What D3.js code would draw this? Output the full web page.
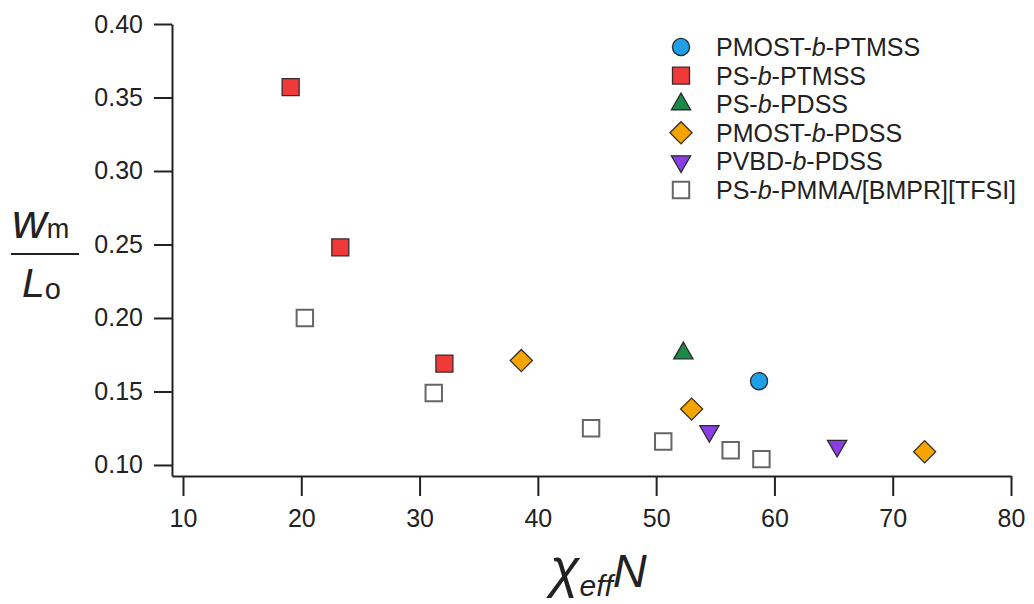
<!DOCTYPE html>
<html>
<head>
<meta charset="utf-8">
<script src="https://cdn.jsdelivr.net/npm/d3@7"></script>
<style>
  body { margin: 0; background: #fff; }
  svg { font-family: "Liberation Sans", Arial, sans-serif; }
</style>
</head>
<body>
<div id="chart"></div>
<script>
// series
const seriesNames = ["PMOST-b-PTMSS", "PS-b-PTMSS", "PS-b-PDSS", "PMOST-b-PDSS", "PVBD-b-PDSS", "PS-b-PMMA/[BMPR][TFSI]"];

const pmostPtmssX = [58.7];
const pmostPtmssY = [0.157];

const psPtmssX = [19.1, 23.3, 32.1];
const psPtmssY = [0.357, 0.248, 0.169];

const psPdssX = [52.3];
const psPdssY = [0.176];

const pmostPdssX = [38.6, 53.0, 72.7];
const pmostPdssY = [0.171, 0.138, 0.109];

const pvbdPdssX = [54.5, 65.3];
const pvbdPdssY = [0.123, 0.113];

const psPmmaX = [20.3, 31.2, 44.5, 50.6, 56.3, 58.9];
const psPmmaY = [0.200, 0.149, 0.125, 0.116, 0.110, 0.104];

const xTicks = [10, 20, 30, 40, 50, 60, 70, 80];
const yTicks = [0.10, 0.15, 0.20, 0.25, 0.30, 0.35, 0.40];

const width = 1034, height = 604;

const svg = d3.select("#chart").append("svg")
  .attr("width", width)
  .attr("height", height);

const x = d3.scaleLinear().domain([9.07, 80]).range([172, 1011]);
const y = d3.scaleLinear().domain([0.0925, 0.40]).range([476, 24]);

// axes
const xAxis = svg.append("g")
  .attr("transform", `translate(0,${y.range()[0]})`)
  .call(d3.axisBottom(x).tickValues(xTicks).tickSize(20).tickSizeOuter(0).tickPadding(13));
const yAxis = svg.append("g")
  .attr("transform", `translate(${x.range()[0]},0)`)
  .call(d3.axisLeft(y).tickValues(yTicks).tickSize(18).tickSizeOuter(0).tickPadding(11).tickFormat(d3.format(".2f")));

[xAxis, yAxis].forEach((g) => {
  g.select(".domain").attr("stroke", "#222").attr("stroke-width", 2);
  g.selectAll(".tick line").attr("stroke", "#222").attr("stroke-width", 2);
  g.selectAll(".tick text")
    .attr("fill", "#222")
    .style("font-size", "25px")
    .style("font-family", "Liberation Sans, Arial, sans-serif");
});

// marker definitions
const styles = [
  { type: d3.symbolCircle, size: 230, rot: 0, fill: "#1e9fe8", stroke: "#2a2a2a", sw: 1.3 },
  { type: d3.symbolSquare, size: 289, rot: 0, fill: "#f03a3a", stroke: "#3a2a2a", sw: 1.3 },
  { type: d3.symbolTriangle, size: 160, rot: 0, fill: "#1a8a4a", stroke: "#2a2a2a", sw: 1.3 },
  { type: d3.symbolSquare, size: 245, rot: 45, fill: "#f5a500", stroke: "#3a3020", sw: 1.3 },
  { type: d3.symbolTriangle, size: 160, rot: 180, fill: "#8a3fe6", stroke: "#2a2a2a", sw: 1.3 },
  { type: d3.symbolSquare, size: 270, rot: 0, fill: "#ffffff", stroke: "#666", sw: 2 }
];

const seriesData = [
  [pmostPtmssX, pmostPtmssY],
  [psPtmssX, psPtmssY],
  [psPdssX, psPdssY],
  [pmostPdssX, pmostPdssY],
  [pvbdPdssX, pvbdPdssY],
  [psPmmaX, psPmmaY]
];

// draw open squares first, then the filled ones
const drawOrder = [5, 1, 3, 4, 2, 0];
drawOrder.forEach((s) => {
  const st = styles[s];
  const pts = seriesData[s][0].map((v, i) => [v, seriesData[s][1][i]]);
  svg.append("g").selectAll("path")
    .data(pts)
    .join("path")
    .attr("d", d3.symbol().type(st.type).size(st.size))
    .attr("transform", (d) => `translate(${x(d[0])},${y(d[1])}) rotate(${st.rot})`)
    .attr("fill", st.fill)
    .attr("stroke", st.stroke)
    .attr("stroke-width", st.sw)
    .attr("stroke-linejoin", "miter");
});

// legend
const legend = svg.append("g").attr("transform", "translate(681,47)");
const rowH = 28.6;
seriesNames.forEach((name, i) => {
  const st = styles[i];
  const row = legend.append("g").attr("transform", `translate(0,${i * rowH})`);
  row.append("path")
    .attr("d", d3.symbol().type(st.type).size(st.size))
    .attr("transform", `rotate(${st.rot})`)
    .attr("fill", st.fill)
    .attr("stroke", st.stroke)
    .attr("stroke-width", st.sw);
  const parts = name.split("-b-");
  const t = row.append("text")
    .attr("x", 35)
    .attr("y", 9)
    .attr("fill", "#222")
    .style("font-size", "25px");
  t.append("tspan").text(parts[0] + "-");
  t.append("tspan").style("font-style", "italic").text("b");
  t.append("tspan").text("-" + parts[1]);
});

// y label: w_m / L_o
const yl = svg.append("g");
const wt = yl.append("text").attr("x", 12).attr("y", 238).attr("fill", "#222");
wt.append("tspan").style("font-size", "48px").style("font-style", "italic").text("w");
wt.append("tspan").style("font-size", "27px").attr("dy", 0).text("m");
yl.append("line")
  .attr("x1", 11).attr("x2", 79)
  .attr("y1", 254).attr("y2", 254)
  .attr("stroke", "#222").attr("stroke-width", 2);
const lt = yl.append("text").attr("x", 22).attr("y", 297).attr("fill", "#222");
lt.append("tspan").style("font-size", "41px").style("font-style", "italic").text("L");
lt.append("tspan").style("font-size", "29px").attr("dy", 2).text("o");

// x label: chi_eff N
const xl = svg.append("text").attr("x", 550).attr("y", 587).attr("fill", "#222").style("font-style", "italic");
xl.append("tspan").style("font-size", "54px").text("χ");
xl.append("tspan").style("font-size", "30px").attr("dy", 9).text("eff");
xl.append("tspan").style("font-size", "47px").attr("dy", -9).text("N");
</script>
</body>
</html>
